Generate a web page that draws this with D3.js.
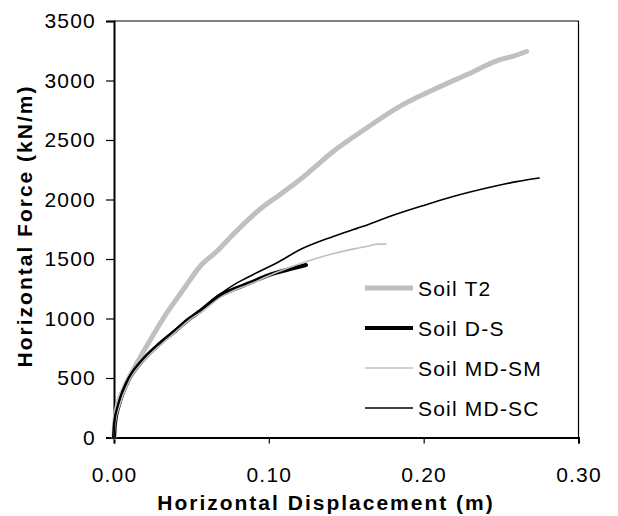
<!DOCTYPE html>
<html>
<head>
<meta charset="utf-8">
<script src="https://cdn.jsdelivr.net/npm/d3@7"></script>
<style>
  body { margin: 0; background: #fff; }
  svg { font-family: "Liberation Sans", Arial, sans-serif; }
</style>
</head>
<body>
<svg width="618" height="516"></svg>
<script>
// datos: [desplazamiento (m), fuerza (kN/m)]
const soilT2 = [[0,0],[0.0005,120],[0.0017,233],[0.006,401],[0.0125,569],[0.021,765],[0.034,1045],
  [0.0447,1241],[0.0555,1437],[0.0663,1563],[0.0764,1700],[0.0878,1844],[0.0964,1941],[0.106,2030],
  [0.12,2166],[0.1416,2404],[0.162,2590],[0.1846,2782],[0.2062,2922],[0.2277,3048],[0.249,3174],
  [0.258,3205],[0.2664,3244]];
const soilDS = [[0,0],[0.0006,120],[0.003,265],[0.006,385],[0.0097,490],[0.0189,653],[0.0297,790],
  [0.040,900],[0.048,990],[0.0555,1059],[0.068,1190],[0.0792,1255],[0.0878,1300],[0.10,1365],
  [0.112,1410],[0.124,1450]];
const soilMDSM = [[0,0],[0.0008,120],[0.0035,265],[0.0105,490],[0.02,655],[0.031,790],[0.041,900],
  [0.049,990],[0.057,1060],[0.069,1180],[0.08,1250],[0.09,1300],[0.1,1360],[0.1244,1479],
  [0.14,1540],[0.155,1585],[0.165,1611],[0.170,1625],[0.1756,1625]];
const soilMDSC = [[0,0],[0.0004,120],[0.0025,265],[0.009,490],[0.018,653],[0.029,790],[0.039,900],
  [0.047,990],[0.0555,1073],[0.068,1200],[0.0792,1297],[0.09,1370],[0.105,1466],[0.12,1577],
  [0.1416,1689],[0.16,1770],[0.178,1857],[0.2,1950],[0.219,2025],[0.245,2109],[0.26,2150],[0.2746,2181]];

const nombres = ["Soil T2", "Soil D-S", "Soil MD-SM", "Soil MD-SC"];
const ticksX = [0, 0.1, 0.2, 0.3];
const ticksY = [0, 500, 1000, 1500, 2000, 2500, 3000, 3500];

const series = [
  { nombre: nombres[0], datos: soilT2, color: "#c0c0c0", ancho: 5 },
  { nombre: nombres[1], datos: soilDS, color: "#000", ancho: 4 },
  { nombre: nombres[2], datos: soilMDSM, color: "#c0c0c0", ancho: 1.6 },
  { nombre: nombres[3], datos: soilMDSC, color: "#000", ancho: 1.6 },
];

const svg = d3.select("svg");
const izq = 114, der = 578.5, arriba = 21, abajo = 437.5;

const x = d3.scaleLinear().domain([0, 0.3]).range([izq, der]);
const y = d3.scaleLinear().domain([0, 3500]).range([abajo, arriba]);

// marco superior y derecho
svg.append("path")
  .attr("d", `M${izq},${arriba}H${der}V${abajo}`)
  .attr("fill", "none").attr("stroke", "#000").attr("stroke-width", 1.2);

// eje Y
const ejeY = svg.append("g")
  .attr("transform", `translate(${izq},0)`)
  .call(d3.axisLeft(y).tickValues(ticksY).tickSize(8).tickPadding(10).tickFormat(d3.format("d")));
ejeY.select(".domain").attr("stroke-width", 2);
ejeY.selectAll(".tick line").attr("stroke-width", 1.2);
ejeY.selectAll("text").attr("font-size", 21).attr("letter-spacing", 1.2)
  .attr("font-family", "Liberation Sans, Arial, sans-serif").attr("fill", "#000");

// eje X
const ejeX = svg.append("g")
  .attr("transform", `translate(0,${abajo})`)
  .call(d3.axisBottom(x).tickValues(ticksX).tickSize(6).tickPadding(24).tickFormat(d3.format(".2f")));
ejeX.select(".domain").attr("stroke-width", 2);
ejeX.selectAll(".tick line").attr("stroke-width", 1.2);
ejeX.selectAll("text").attr("font-size", 21).attr("letter-spacing", 1.2)
  .attr("font-family", "Liberation Sans, Arial, sans-serif").attr("fill", "#000");

// curvas
const linea = d3.line().x(d => x(d[0])).y(d => y(d[1])).curve(d3.curveMonotoneX);
svg.selectAll(".curva")
  .data(series)
  .enter()
  .append("path")
  .attr("class", "curva")
  .attr("d", d => linea(d.datos))
  .attr("fill", "none")
  .attr("stroke", d => d.color)
  .attr("stroke-width", d => d.ancho)
  .attr("stroke-linejoin", "round")
  .attr("stroke-linecap", "round");

// leyenda
const leyenda = svg.selectAll(".leyenda")
  .data(series)
  .enter()
  .append("g")
  .attr("class", "leyenda")
  .attr("transform", (d, i) => `translate(365,${288 + i * 40})`);
leyenda.append("line")
  .attr("x1", 0).attr("x2", 48)
  .attr("stroke", d => d.color)
  .attr("stroke-width", d => d.ancho);
leyenda.append("text")
  .attr("x", 53).attr("y", 8)
  .attr("font-size", 21).attr("letter-spacing", 1.2)
  .text(d => d.nombre);

// titulos de ejes
svg.append("text")
  .attr("x", 326).attr("y", 510)
  .attr("text-anchor", "middle")
  .attr("font-size", 21).attr("font-weight", "bold").attr("letter-spacing", 2)
  .text("Horizontal Displacement (m)");
svg.append("text")
  .attr("transform", "translate(32,226) rotate(-90)")
  .attr("text-anchor", "middle")
  .attr("font-size", 21).attr("font-weight", "bold").attr("letter-spacing", 2)
  .text("Horizontal Force (kN/m)");
</script>
</body>
</html>
